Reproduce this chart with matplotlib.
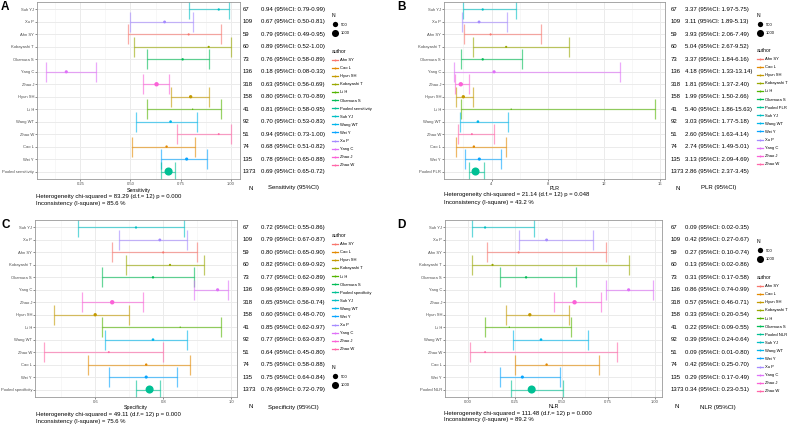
import numpy as np
import matplotlib
matplotlib.use('Agg')
import matplotlib.pyplot as plt
from matplotlib.transforms import blended_transform_factory
from matplotlib.lines import Line2D

plt.rcParams['font.family'] = ['Liberation Sans', 'DejaVu Sans']

W, H = 793, 425

# study rows, top to bottom (last row = pooled estimate)
studies = ['Suh YJ', 'Xu P', 'Ahn SY', 'Kobayashi T', 'Okamura S', 'Yang C', 'Zhao J',
           'Hyun SH', 'Li H', 'Wang WT', 'Zhao W', 'Cao L', 'Wei Y']
n_pat = [67, 109, 59, 60, 73, 136, 318, 158, 41, 92, 51, 74, 135, 1373]

# A: sensitivity
sens = [0.94, 0.67, 0.79, 0.89, 0.76, 0.18, 0.63, 0.80, 0.81, 0.70, 0.94, 0.68, 0.78, 0.69]
sens_lo = [0.79, 0.50, 0.49, 0.52, 0.58, 0.08, 0.56, 0.70, 0.58, 0.53, 0.73, 0.51, 0.65, 0.65]
sens_hi = [0.99, 0.81, 0.95, 1.00, 0.89, 0.33, 0.69, 0.89, 0.95, 0.83, 1.00, 0.82, 0.88, 0.72]

# B: positive likelihood ratio
plr = [3.37, 3.11, 3.93, 5.04, 3.37, 4.18, 1.81, 1.99, 5.40, 3.03, 2.60, 2.74, 3.13, 2.86]
plr_lo = [1.97, 1.89, 2.06, 2.67, 1.84, 1.33, 1.37, 1.50, 1.86, 1.77, 1.63, 1.49, 2.09, 2.37]
plr_hi = [5.75, 5.13, 7.49, 9.52, 6.16, 13.14, 2.40, 2.66, 15.63, 5.18, 4.14, 5.01, 4.69, 3.45]

# C: specificity
spec = [0.72, 0.79, 0.80, 0.82, 0.77, 0.96, 0.65, 0.60, 0.85, 0.77, 0.64, 0.75, 0.75, 0.76]
spec_lo = [0.55, 0.67, 0.65, 0.69, 0.62, 0.89, 0.56, 0.48, 0.62, 0.63, 0.45, 0.58, 0.64, 0.72]
spec_hi = [0.86, 0.87, 0.90, 0.92, 0.89, 0.99, 0.74, 0.70, 0.97, 0.87, 0.80, 0.88, 0.84, 0.79]

# D: negative likelihood ratio
nlr = [0.09, 0.42, 0.27, 0.13, 0.31, 0.86, 0.57, 0.33, 0.22, 0.39, 0.09, 0.42, 0.29, 0.34]
nlr_lo = [0.02, 0.27, 0.10, 0.02, 0.17, 0.74, 0.46, 0.20, 0.09, 0.24, 0.01, 0.25, 0.17, 0.23]
nlr_hi = [0.35, 0.67, 0.74, 0.86, 0.58, 0.99, 0.71, 0.54, 0.55, 0.64, 0.80, 0.70, 0.49, 0.51]

metrics = ['Sensitivity', 'PLR', 'Specificity', 'NLR']
pooled_names = ['Pooled sensitivity', 'Pooled PLR', 'Pooled specificity', 'Pooled NLR']
het_lines = [
    ['Heterogeneity chi-squared = 83.29 (d.f.= 12) p = 0.000', 'Inconsistency (I-square) = 85.6 %'],
    ['Heterogeneity chi-squared = 21.14 (d.f.= 12) p = 0.048', 'Inconsistency (I-square) = 43.2 %'],
    ['Heterogeneity chi-squared = 49.11 (d.f.= 12) p = 0.000', 'Inconsistency (I-square) = 75.6 %'],
    ['Heterogeneity chi-squared = 111.48 (d.f.= 12) p = 0.000', 'Inconsistency (I-square) = 89.2 %'],
]
xticks = [[0.25, 0.50, 0.75, 1.00], [4, 8, 12, 16], [0.6, 0.8, 1.0], [0.00, 0.25, 0.50, 0.75, 1.00]]
xticklabels = [['0.25', '0.50', '0.75', '1.00'], ['4', '8', '12', '16'],
               ['0.6', '0.8', '1.0'], ['0.00', '0.25', '0.50', '0.75', '1.00']]
legend_breaks = [500, 1000]


def hue_pal(n, c=100, l=65):
    # ggplot2 default discrete palette (HCL -> sRGB)
    hues = np.deg2rad(15 + 360 / n * np.arange(n))
    Xn, Yn, Zn = 95.047, 100.0, 108.883
    un = 4 * Xn / (Xn + 15 * Yn + 3 * Zn)
    vn = 9 * Yn / (Xn + 15 * Yn + 3 * Zn)
    out = []
    for h in hues:
        u, v = c * np.cos(h), c * np.sin(h)
        Y = Yn * ((l + 16) / 116) ** 3
        up = u / (13 * l) + un
        vp = v / (13 * l) + vn
        X = Y * 9 * up / (4 * vp)
        Z = Y * (12 - 3 * up - 20 * vp) / (4 * vp)
        X, Y2, Z = X / 100, Y / 100, Z / 100
        rgb = [3.240479 * X - 1.537150 * Y2 - 0.498535 * Z,
               -0.969256 * X + 1.875992 * Y2 + 0.041556 * Z,
               0.055648 * X - 0.204043 * Y2 + 1.057311 * Z]
        rgb = [1.055 * ch ** (1 / 2.4) - 0.055 if ch > 0.0031308 else 12.92 * ch for ch in rgb]
        out.append(tuple(min(max(ch, 0), 1) for ch in rgb))
    return out


def size_pt(n):
    # area scale like scale_size(range = c(1, 6))
    lo, hi = min(n_pat), max(n_pat)
    s = 1 + 5 * np.sqrt((np.asarray(n, float) - lo) / (hi - lo))
    return 0.97 * s


def fbox(left, top, right, bottom):
    return [left / W, 1 - bottom / H, (right - left) / W, (bottom - top) / H]


# layout in pixels
panels = [
    dict(letter='A', lx=1, box=(37, 2, 240, 179), ncol=243, ecol=261, hdr_n=251, hdr_e=293,
         hdr_y=188, xlab_y=190.5, het_x=36, het_y=196.5, leg_n=(330, 11), leg_a=(330, 47)),
    dict(letter='B', lx=397, box=(444, 2, 665, 179), ncol=671, ecol=685, hdr_n=678, hdr_e=719,
         hdr_y=188, xlab_y=188.5, het_x=444, het_y=195, leg_n=(755, 11), leg_a=(755, 46)),
    dict(letter='C', lx=1, box=(35, 220, 237, 397), ncol=243, ecol=261, hdr_n=251, hdr_e=293,
         hdr_y=407, xlab_y=408, het_x=36, het_y=414.5, leg_n=(330, 363), leg_a=(330, 231)),
    dict(letter='D', lx=397, box=(445, 220, 662, 397), ncol=671, ecol=685, hdr_n=677, hdr_e=718,
         hdr_y=407, xlab_y=406.5, het_x=444, het_y=413, leg_n=(755, 237), leg_a=(755, 273)),
]
series = [(sens, sens_lo, sens_hi), (plr, plr_lo, plr_hi),
          (spec, spec_lo, spec_hi), (nlr, nlr_lo, nlr_hi)]

fig = plt.figure(figsize=(W / 100, H / 100), dpi=100)

for k, p in enumerate(panels):
    est, lo, hi = series[k]
    labels = studies + [pooled_names[k]]
    authors = sorted(labels)
    pal = dict(zip(authors, hue_pal(len(authors))))
    rows = np.arange(len(labels))

    ax = fig.add_axes(fbox(*p['box']))
    for i, lab in enumerate(labels):
        ax.errorbar(est[i], rows[i], xerr=[[est[i] - lo[i]], [hi[i] - est[i]]], fmt='none',
                    ecolor=pal[lab], alpha=0.6, elinewidth=0.9, capsize=7.5, capthick=0.9)
    ax.scatter(est, rows, s=size_pt(n_pat) ** 2, c=[pal[l] for l in labels],
               linewidths=0, zorder=3)

    span = max(hi) - min(lo)
    ax.set_xlim(min(lo) - 0.05 * span, max(hi) + 0.05 * span)
    ax.set_ylim(len(labels) - 0.4, -0.6)
    ax.set_yticks(rows)
    ax.set_yticklabels(labels)
    ax.set_xticks(xticks[k])
    ax.set_xticklabels(xticklabels[k])
    step = xticks[k][1] - xticks[k][0]
    ax.set_xticks(np.arange(xticks[k][0] - step / 2, ax.get_xlim()[1], step), minor=True)
    ax.tick_params(which='minor', length=0)
    ax.tick_params(which='major', labelsize=3, labelcolor='#4D4D4D', length=1.5,
                   width=0.4, color='#333333', pad=0.6)
    ax.grid(True, which='major', color='#EBEBEB', lw=0.7)
    ax.grid(True, which='minor', axis='x', color='#F2F2F2', lw=0.4)
    ax.set_axisbelow(True)
    for sp in ax.spines.values():
        sp.set_color('#999999')
        sp.set_linewidth(0.6)

    l, t, r, b = p['box']
    fig.text((l + r) / 2 / W, 1 - p['xlab_y'] / H, metrics[k], ha='center', va='center',
             fontsize=3.8)
    for j, line in enumerate(het_lines[k]):
        fig.text(p['het_x'] / W, 1 - (p['het_y'] + 7 * j) / H, line, ha='left', va='center',
                 fontsize=4.3)
    fig.text(p['lx'] / W, 1 - (t + 5) / H, p['letter'], fontsize=8.5, fontweight='bold',
             ha='left', va='center')

    # text table next to the plot
    tr = blended_transform_factory(fig.transFigure, ax.transData)
    for i in rows:
        ax.text(p['ncol'] / W, i, str(n_pat[i]), transform=tr, ha='left', va='center',
                fontsize=4.3, clip_on=False)
        ax.text(p['ecol'] / W, i, f'{est[i]:.2f} (95%CI: {lo[i]:.2f}-{hi[i]:.2f})',
                transform=tr, ha='left', va='center', fontsize=4.3, clip_on=False)
    fig.text(p['hdr_n'] / W, 1 - p['hdr_y'] / H, 'N', ha='center', va='center', fontsize=4.3)
    fig.text(p['hdr_e'] / W, 1 - p['hdr_y'] / H, f'{metrics[k]} (95%CI)', ha='center',
             va='center', fontsize=4.3)

    # legends
    n_handles = [Line2D([], [], ls='none', marker='o', color='black', markeredgewidth=0,
                        ms=size_pt(v)) for v in legend_breaks]
    fig.legend(n_handles, [str(v) for v in legend_breaks], title='N',
               loc='upper left', bbox_to_anchor=(p['leg_n'][0] / W, 1 - p['leg_n'][1] / H),
               fontsize=3, title_fontsize=3.6, frameon=False, borderpad=0,
               handlelength=1.4, handletextpad=0.6, labelspacing=1.1, alignment='left')
    a_handles = [Line2D([], [], color=pal[a], lw=0.9, marker='o', ms=1.4, markeredgewidth=0)
                 for a in authors]
    fig.legend(a_handles, authors, title='author', loc='upper left',
               bbox_to_anchor=(p['leg_a'][0] / W, 1 - p['leg_a'][1] / H),
               fontsize=3, title_fontsize=3.6, frameon=False, borderpad=0,
               handlelength=1.4, handletextpad=0.6, labelspacing=0.98, alignment='left')

fig.savefig('out.png', dpi=100)
